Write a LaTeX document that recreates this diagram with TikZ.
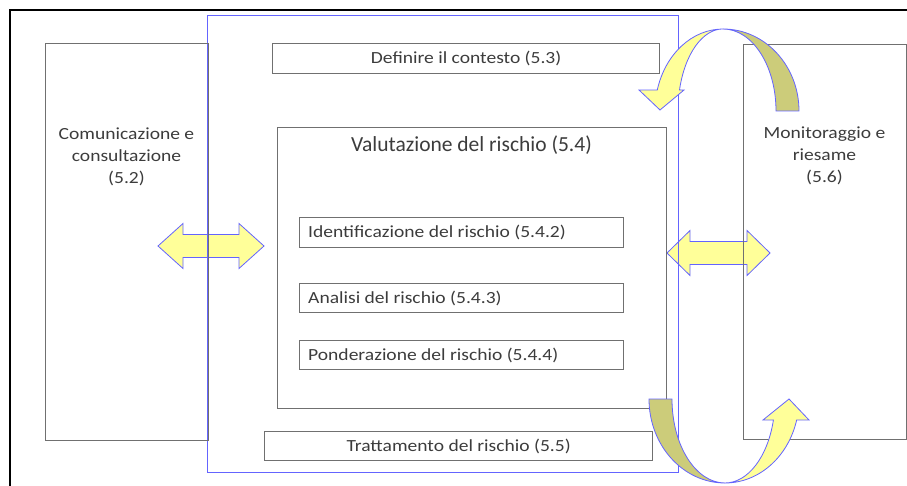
\documentclass[tikz,border=0pt]{standalone}
\usepackage{fontspec}
\setmainfont{Carlito}[FakeStretch=1.15]
\newfontfamily\titlefont{Carlito}
\definecolor{txt}{RGB}{60,60,60}
\definecolor{boxline}{RGB}{112,112,112}
\definecolor{frameblue}{RGB}{100,100,255}
\definecolor{arrowyellow}{RGB}{255,255,153}
\definecolor{arrowolive}{RGB}{204,204,122}
\begin{document}
\begin{tikzpicture}[x=1pt,y=-1pt,
  box/.style={draw=boxline, line width=1.3pt, rectangle, inner sep=0pt, anchor=north west},
  lbl/.style={text=txt, font=\fontsize{17}{22}\selectfont, align=center, inner sep=0pt},
  lbll/.style={text=txt, font=\fontsize{17}{22}\selectfont, align=left, inner sep=0pt, anchor=west},
  arrowshape/.style={draw=frameblue, line width=0.8pt, line join=miter},
]
\useasboundingbox (0,0) rectangle (907,486);
% outer frame
\draw[line width=1.5pt, black] (10,486) -- (10,10) -- (907,10);

% double arrows (behind the frames)
\path[arrowshape, fill=arrowyellow]
  (158,246) -- (183,223.5) -- (183,234.5) -- (239,234.5) -- (239,223.5) -- (264,246)
  -- (239,268.5) -- (239,257.5) -- (183,257.5) -- (183,268.5) -- cycle;
\path[arrowshape, fill=arrowyellow]
  (667,253) -- (690,230.5) -- (690,241.5) -- (747,241.5) -- (747,230.5) -- (770,253)
  -- (747,275.5) -- (747,264.5) -- (690,264.5) -- (690,275.5) -- cycle;

% boxes
\node[box, draw=frameblue, minimum width=471pt, minimum height=457pt] (frame) at (207,15) {};
\node[box, minimum width=163pt, minimum height=397pt] (com) at (45,43) {};
\node[box, minimum width=163pt, minimum height=395pt] (mon) at (743,44) {};
\node[box, minimum width=387pt, minimum height=30pt] (def) at (272,43) {};
\node[box, minimum width=389pt, minimum height=281pt] (val) at (277,127) {};
\node[box, minimum width=324pt, minimum height=30pt] (ide) at (299,217) {};
\node[box, minimum width=324pt, minimum height=29pt] (ana) at (299,283) {};
\node[box, minimum width=324pt, minimum height=29pt] (pon) at (299,340) {};
\node[box, minimum width=388pt, minimum height=29pt] (tra) at (264,431) {};

% labels
\node[lbl] (comt) at (126.5,157) {Comunicazione e\\consultazione\\(5.2)};
\node[lbl] (mont) at (824.5,156) {Monitoraggio e\\riesame\\(5.6)};
\node[lbl] (deft) at (def.center) {Definire il contesto (5.3)};
\node[lbl, font=\titlefont\fontsize{21.5}{24}\selectfont] (valt) at (471.5,145) {Valutazione del rischio (5.4)};
\node[lbll] (idet) at ([xshift=9pt]ide.west) {Identificazione del rischio (5.4.2)};
\node[lbll] (anat) at ([xshift=9pt]ana.west) {Analisi del rischio (5.4.3)};
\node[lbll] (pont) at ([xshift=9pt]pon.west) {Ponderazione del rischio (5.4.4)};
\node[lbl] (trat) at (tra.center) {Trattamento del rischio (5.5)};

% top curved arrow
\path[arrowshape, fill=arrowolive]
  (799,111) arc[start angle=0, end angle=90, x radius=76pt, y radius=82pt]
  arc[start angle=90, end angle=0, x radius=53pt, y radius=82pt] -- cycle;
\path[arrowshape, fill=arrowyellow]
  (723,29) arc[start angle=90, end angle=165.2, x radius=68pt, y radius=82pt]
  -- (639,90) -- (660,110) -- (684,90) -- (679.5,90)
  arc[start angle=165.2, end angle=90, x radius=45pt, y radius=82pt] -- cycle;

% bottom curved arrow
\path[arrowshape, fill=arrowolive]
  (649,399) arc[start angle=180, end angle=270, x radius=76pt, y radius=84pt]
  arc[start angle=270, end angle=180, x radius=53pt, y radius=84pt] -- cycle;
\path[arrowshape, fill=arrowyellow]
  (725,483) arc[start angle=270, end angle=345.5, x radius=74pt, y radius=84pt]
  -- (809,420) -- (789,399) -- (763,420) -- (773.4,420)
  arc[start angle=345.5, end angle=270, x radius=50pt, y radius=84pt] -- cycle;
\end{tikzpicture}
\end{document}
